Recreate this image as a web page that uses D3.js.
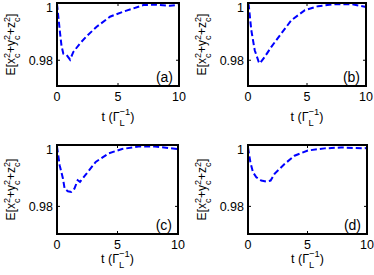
<!DOCTYPE html>
<html lang="en">
<head>
<meta charset="UTF-8" />
<title>E[xc2+yc2+zc2] vs t</title>
<script src="https://cdn.jsdelivr.net/npm/d3@7/dist/d3.min.js"></script>
<style>
  body { margin: 0; background: #fff; }
  svg { display: block; font-family: "Liberation Sans", Arial, sans-serif; }
</style>
</head>
<body>
<svg id="chart" width="374" height="275"></svg>
<script>
// values
var tA = [0, 0.25, 0.37, 0.52, 0.79, 1.07, 1.34, 1.89, 2.43, 3.25, 4.34, 5.44, 6.26, 7.08, 8.17, 9.26, 10];
var vA = [0.9997, 0.9895, 0.985, 0.9823, 0.9818, 0.9802, 0.9829, 0.9859, 0.9884, 0.9917, 0.9952, 0.997, 0.9981, 0.9993, 0.9994, 0.999, 0.9994];

var tB = [0, 0.06, 0.28, 0.57, 0.91, 1.0, 1.42, 1.98, 2.83, 3.68, 4.82, 5.95, 7.37, 8.78, 9.9, 10];
var vB = [0.9998, 0.9993, 0.9905, 0.9835, 0.9794, 0.9789, 0.9812, 0.9847, 0.9894, 0.994, 0.9975, 0.9989, 0.9996, 0.9996, 0.9987, 0.9986];

var tC = [0, 0.22, 0.49, 0.63, 0.9, 1.17, 1.44, 1.71, 1.9, 2.39, 3.2, 4.29, 5.38, 6.74, 8.1, 10];
var vC = [0.9995, 0.9934, 0.9891, 0.9858, 0.9849, 0.9847, 0.9858, 0.9885, 0.988, 0.9904, 0.9945, 0.9973, 0.9987, 0.9995, 0.9995, 0.9987];

var tD = [0, 0.2, 0.42, 0.7, 1.12, 1.54, 1.9, 2.23, 3.07, 3.91, 5.03, 6.42, 7.82, 9.78, 10];
var vD = [0.9992, 0.9944, 0.9911, 0.9895, 0.9884, 0.9881, 0.9884, 0.9906, 0.9938, 0.9965, 0.9982, 0.9989, 0.9992, 0.9989, 0.999];

var xTicks = [0, 5, 10];
var yTicks = [0.98, 1];
var yTickLabels = ["0.98", "1"];
var panelLabels = ["(a)", "(b)", "(c)", "(d)"];

var svg = d3.select("#chart");

// panel boxes in page pixels
var panels = [
  { t: tA, v: vA, x0: 57,  x1: 179, y0: 3,   y1: 86,  xl: 117 },
  { t: tB, v: vB, x0: 248, x1: 366, y0: 3,   y1: 86,  xl: 117 },
  { t: tC, v: vC, x0: 57,  x1: 178, y0: 145, y1: 234, xl: 259 },
  { t: tD, v: vD, x0: 248, x1: 367, y0: 145, y1: 234, xl: 259 }
];

// draws text with stacked sub/superscripts, centred on 0
function richText(g, pieces, fs) {
  var x = 0, small = fs * 0.75;
  pieces.forEach(function(p) {
    if (p.t) {
      var el = g.append("text").attr("x", x).attr("y", 0)
        .attr("font-size", fs).text(p.t);
      x += el.node().getComputedTextLength();
    } else {
      var a = g.append("text").attr("x", x).attr("y", -fs * 0.45)
        .attr("font-size", small).text(p.sup);
      var b = g.append("text").attr("x", x).attr("y", fs * 0.42)
        .attr("font-size", small).text(p.sub);
      x += Math.max(a.node().getComputedTextLength(), b.node().getComputedTextLength());
    }
  });
  g.selectAll("text").attr("x", function() { return +d3.select(this).attr("x") - x / 2; });
}

var yPieces = [
  { t: "E[x" }, { sub: "c", sup: "2" },
  { t: "+y" }, { sub: "c", sup: "2" },
  { t: "+z" }, { sub: "c", sup: "2" },
  { t: "]" }
];
var xPieces = [{ t: "t (Γ" }, { sub: "L", sup: "−1" }, { t: ")" }];

panels.forEach(function(p, i) {
  var x = d3.scaleLinear().domain([0, 10]).range([p.x0, p.x1]);
  var y = d3.scaleLinear().domain([0.971, 1]).range([p.y1, p.y0]);
  var g = svg.append("g");

  // curve
  var line = d3.line().x(function(d) { return x(d[0]); }).y(function(d) { return y(d[1]); });
  g.append("path")
    .datum(d3.zip(p.t, p.v))
    .attr("d", line)
    .attr("fill", "none")
    .attr("stroke", "#0000ff")
    .attr("stroke-width", 2)
    .attr("stroke-dasharray", "6,3");

  // inward ticks, matlab style
  xTicks.forEach(function(tk) {
    g.append("line").attr("x1", x(tk)).attr("x2", x(tk)).attr("y1", p.y1).attr("y2", p.y1 - 3)
      .attr("stroke", "#000");
    g.append("line").attr("x1", x(tk)).attr("x2", x(tk)).attr("y1", p.y0).attr("y2", p.y0 + 3)
      .attr("stroke", "#000");
    g.append("text").attr("x", x(tk)).attr("y", p.y1 + 15)
      .attr("text-anchor", "middle").attr("font-size", 12.5).text(tk);
  });
  yTicks.forEach(function(tk, k) {
    g.append("line").attr("x1", p.x0).attr("x2", p.x0 + 3).attr("y1", y(tk)).attr("y2", y(tk))
      .attr("stroke", "#000");
    g.append("line").attr("x1", p.x1).attr("x2", p.x1 - 3).attr("y1", y(tk)).attr("y2", y(tk))
      .attr("stroke", "#000");
    // the top label sits a little lower so it stays inside the figure
    g.append("text").attr("x", p.x0 - 4).attr("y", y(tk) + (k === 1 ? 9 : 5))
      .attr("text-anchor", "end").attr("font-size", 12.5).text(yTickLabels[k]);
  });

  // box
  g.append("rect")
    .attr("x", p.x0).attr("y", p.y0)
    .attr("width", p.x1 - p.x0).attr("height", p.y1 - p.y0)
    .attr("fill", "none").attr("stroke", "#000").attr("stroke-width", 2);

  // panel tag
  g.append("text").attr("x", p.x1 - 6).attr("y", p.y1 - 4)
    .attr("text-anchor", "end").attr("font-size", 14).text(panelLabels[i]);

  // axis titles
  var xl = g.append("g").attr("transform", "translate(" + ((p.x0 + p.x1) / 2) + "," + (p.xl + 4) + ")");
  richText(xl, xPieces, 12.5);
  var yl = g.append("g").attr("transform", "translate(" + (p.x0 - 42) + "," + ((p.y0 + p.y1) / 2) + ") rotate(-90)");
  richText(yl, yPieces, 12);
});
</script>
</body>
</html>
